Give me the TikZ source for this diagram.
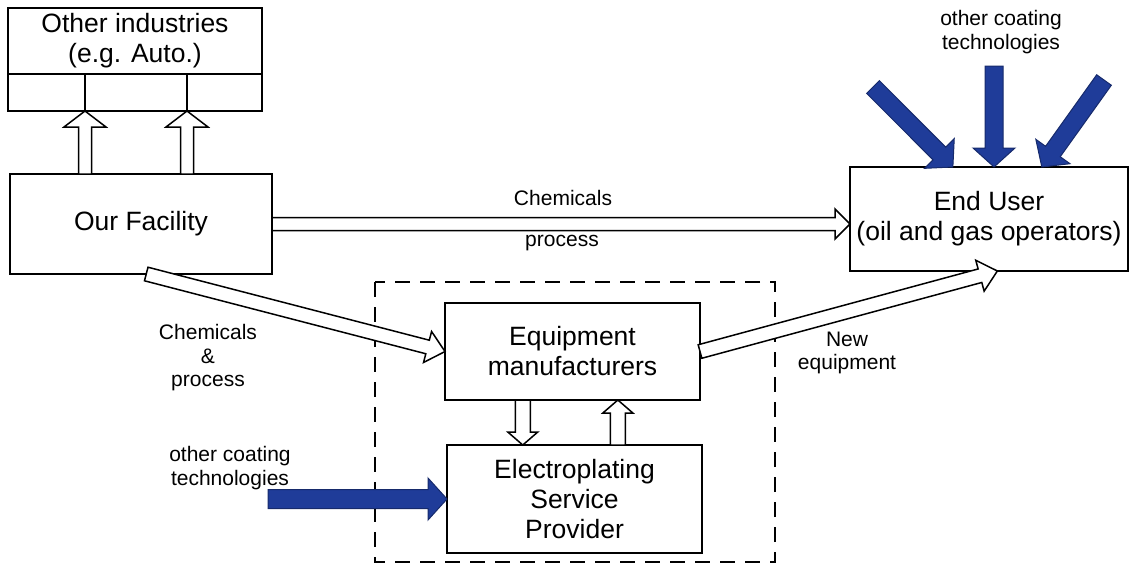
\documentclass[tikz,border=0pt]{standalone}
\usepackage{fontspec}
\setmainfont{Liberation Sans}
\usepackage{tikz}
\usetikzlibrary{arrows.meta, calc, positioning}
\usepackage{xcolor}
\definecolor{coatblue}{HTML}{1F3C99}

\tikzset{
  box/.style={draw, line width=0.8pt, inner sep=0pt, outer sep=0pt, align=center,
    font=\fontsize{10.6}{12}\selectfont},
  lbl/.style={align=center, inner sep=0pt, font=\fontsize{8.4}{9.4}\selectfont},
  hollow/.style={draw=black, fill=white, line width=0.6pt, line join=miter},
  coat/.style={draw=coatblue!70!black, fill=coatblue, line width=0.4pt, line join=miter},
}

% block arrow: [style]{tail}{tip}{half shaft}{half head}{head length in pt}
\newcommand{\blockarrow}[6][hollow]{%
  \draw[#1] let \p1=($#3-#2$), \n1={atan2(\y1,\x1)}, \n2={veclen(\x1,\y1)-#6} in
    ($#2+({\n1+90}:#4)$) -- ($#2+({\n1}:{\n2*1pt})+({\n1+90}:#4)$)
    -- ($#2+({\n1}:{\n2*1pt})+({\n1+90}:#5)$) -- #3
    -- ($#2+({\n1}:{\n2*1pt})+({\n1-90}:#5)$) -- ($#2+({\n1}:{\n2*1pt})+({\n1-90}:#4)$)
    -- ($#2+({\n1-90}:#4)$) -- cycle;}

\begin{document}
\begin{tikzpicture}[x=0.4pt, y=-0.4pt]
  \useasboundingbox (0,0) rectangle (1131,567);
  % boxes
  \node[box, minimum width=101.6pt, minimum height=26.4pt] (oth) at (135,41) {Other industries\\(e.g. Auto.)};
  \node[box, minimum width=101.6pt, minimum height=14.8pt, below=0pt of oth] (othb) {};
  \node[box, minimum width=104.8pt, minimum height=40pt] (fac) at (141,224) {Our Facility};
  \node[box, minimum width=111.2pt, minimum height=41.6pt] (endu) at (989,219) {End User\\(oil and gas operators)};
  \node[box, minimum width=102pt, minimum height=38.8pt] (eq) at (572.5,351.5) {Equipment\\manufacturers};
  \node[box, minimum width=102pt, minimum height=43.2pt] (el) at (574.5,499) {Electroplating\\Service\\Provider};
  \draw[dash pattern=on 6pt off 4pt, line width=0.6pt] (375,282) rectangle (775,562);

  % arrows up to other industries
  \coordinate (v1) at (85,0);
  \coordinate (v2) at (187,0);
  \draw[line width=0.6pt] (othb.north -| v1) -- (othb.south -| v1)
    (othb.north -| v2) -- (othb.south -| v2);
  \blockarrow{(fac.north -| v1)}{(othb.south -| v1)}{2.6pt}{8.4pt}{6.4}
  \blockarrow{(fac.north -| v2)}{(othb.south -| v2)}{2.6pt}{8.4pt}{6.4}

  % chemicals and process
  \blockarrow{(fac.east)}{(fac.east -| endu.west)}{2.6pt}{6pt}{6}
  \coordinate (facout) at ($(fac.south west)!0.52!(fac.south east)$);
  \blockarrow{(facout)}{(eq.west)}{2.8pt}{6.4pt}{7.2}
  \coordinate (euin) at ($(endu.south west)!0.53!(endu.south east)$);
  \blockarrow{(eq.east)}{(euin)}{2.8pt}{6.4pt}{7.2}
  \coordinate (dn) at ($(eq.south west)!0.305!(eq.south east)$);
  \blockarrow{(dn)}{(dn |- el.north)}{3pt}{6pt}{5.2}
  \coordinate (up) at ($(el.north west)!0.67!(el.north east)$);
  \blockarrow{(up)}{(up |- eq.south)}{3pt}{6pt}{5.2}

  % other coating technologies
  \coordinate (bt) at (268,499);
  \blockarrow[coat]{(bt)}{(el.west)}{3.8pt}{8.4pt}{7.6}
  \coordinate (t1) at (873,87);
  \coordinate (t2) at (994,66);
  \coordinate (t3) at (1104,80);
  \coordinate (e1) at ($(endu.north west)!0.37!(endu.north east)$);
  \coordinate (e2) at ($(endu.north west)!0.518!(endu.north east)$);
  \coordinate (e3) at ($(endu.north west)!0.69!(endu.north east)$);
  \blockarrow[coat]{(t1)}{(e1)}{3.6pt}{8.4pt}{7.6}
  \blockarrow[coat]{(t2)}{(e2)}{3.6pt}{8.4pt}{7.6}
  \blockarrow[coat]{(t3)}{(e3)}{3.6pt}{8.4pt}{7.6}

  % labels
  \node[lbl] (chemtop) at (563,198) {Chemicals};
  \node[lbl] (proctop) at (562,243) {process};
  \node[lbl] (chemand) at (208,358) {Chemicals\\\&\\process};
  \node[lbl] (neweq) at (847,353) {New\\equipment};
  \node[lbl] (coatl) at (230,468) {other coating\\technologies};
  \node[lbl] (coatt) at (1001,32) {other coating\\technologies};
\end{tikzpicture}
\end{document}
